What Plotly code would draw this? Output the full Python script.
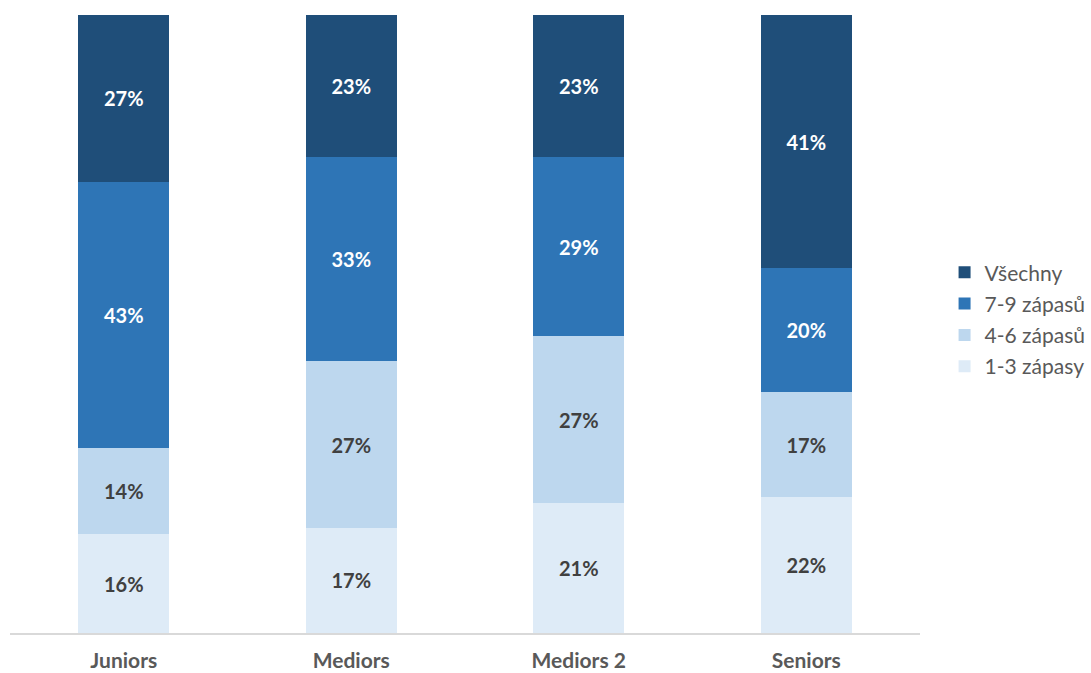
import plotly.graph_objects as go

categories = ["Juniors", "Mediors", "Mediors 2", "Seniors"]
series_names = ["1-3 zápasy", "4-6 zápasů", "7-9 zápasů", "Všechny"]
share_1_3 = [16, 17, 21, 22]
share_4_6 = [14, 27, 27, 17]
share_7_9 = [43, 33, 29, 20]
share_all = [27, 23, 23, 41]

series_values = [share_1_3, share_4_6, share_7_9, share_all]
colors = ["#DEEBF7", "#BDD7EE", "#2E75B6", "#1F4E79"]
text_colors = ["#404040", "#404040", "#FFFFFF", "#FFFFFF"]

FONT = "Lato, Carlito, Calibri, sans-serif"

fig = go.Figure()
n = len(series_names)
for i, (name, vals, col, tcol) in enumerate(zip(series_names, series_values, colors, text_colors)):
    fig.add_trace(go.Bar(
        x=categories,
        y=vals,
        name=name,
        legendgroup=name,
        legendrank=n - i,  # top segment listed first
        marker=dict(color=col, line=dict(width=0)),
        texttemplate="%{y}%",
        textposition="inside",
        insidetextanchor="middle",
        textangle=0,
        textfont=dict(family=FONT, size=20, color=tcol, weight="bold"),
        hoverinfo="skip",
    ))

fig.update_layout(
    barmode="stack",
    bargap=0.6,
    width=1091,
    height=673,
    margin=dict(l=10, r=171, t=15, b=40, autoexpand=False),
    plot_bgcolor="white",
    paper_bgcolor="white",
    font=dict(family=FONT, color="#595959"),
    showlegend=True,
    legend=dict(
        x=1.027,
        xanchor="left",
        y=0.507,
        yanchor="middle",
        traceorder="grouped",
        tracegroupgap=1,
        font=dict(family=FONT, size=21, color="#595959"),
        itemwidth=30,
        bgcolor="rgba(0,0,0,0)",
    ),
    xaxis=dict(
        showline=True,
        linecolor="#D9D9D9",
        linewidth=2,
        ticks="",
        ticklabelstandoff=8,
        tickfont=dict(family=FONT, size=21, color="#595959", weight="bold"),
        showgrid=False,
    ),
    yaxis=dict(
        range=[0, 100],
        visible=False,
        showgrid=False,
        zeroline=False,
    ),
)

fig.write_html("out.html")
